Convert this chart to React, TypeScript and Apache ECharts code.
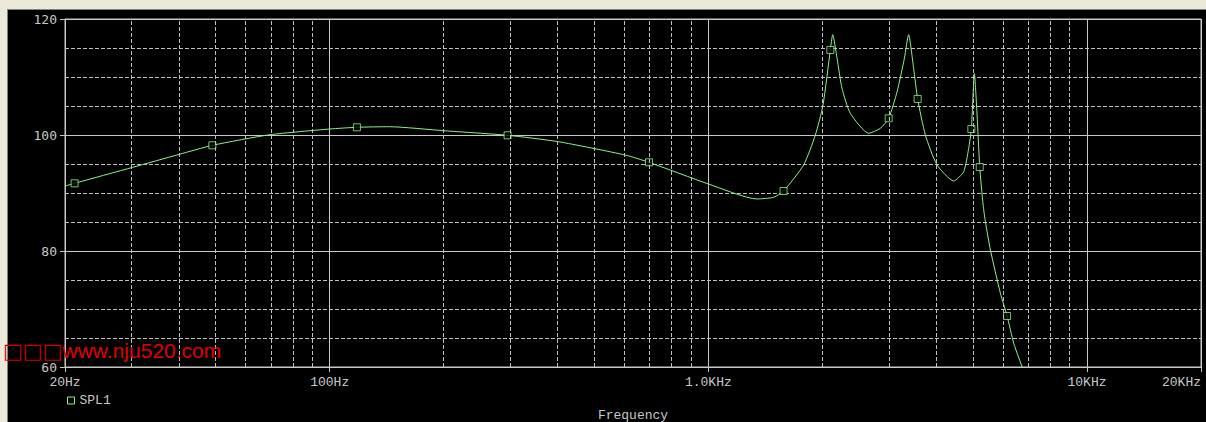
import React, { useEffect, useRef } from "react";
import * as echarts from "echarts";

// Frequency response (Hz) and SPL (dB)
const freqs = [20, 21.2, 30.2, 40.1, 49.0, 69.6, 100, 118, 144, 200, 295, 402, 603, 697, 1001, 1344, 1487, 1580, 1785, 1917, 2008, 2100, 2130, 2188, 2254, 2371, 2652, 2846, 2994, 3151, 3294, 3380, 3484, 3571, 3742, 4018, 4445, 4724, 4870, 4950, 5042, 5125, 5208, 5317, 5391, 5558, 5906, 6152, 6404, 6741];
const spl = [91.2, 91.67, 94.43, 96.67, 98.22, 100.05, 101.03, 101.33, 101.43, 100.74, 99.95, 98.84, 96.55, 95.29, 91.55, 88.97, 89.26, 90.34, 94.83, 100.0, 105.17, 114.66, 117.3, 113.2, 108.05, 103.74, 100.29, 101.16, 102.88, 107.47, 113.22, 117.3, 111.5, 106.21, 100.0, 94.83, 92.07, 93.67, 97.71, 101.03, 110.6, 103.45, 94.48, 87.93, 85.05, 80.17, 72.71, 68.79, 64.09, 60];

const markerFreqs = [21.2, 49.0, 118, 295, 697, 1580, 2100, 2994, 3571, 4950, 5208, 6152];
const markerSpl = [91.67, 98.22, 101.33, 99.95, 95.29, 90.34, 114.66, 102.88, 106.21, 101.03, 94.48, 68.79];

const xTickValues = [20, 100, 1000, 10000, 20000];
const xTickLabels = ["20Hz", "100Hz", "1.0KHz", "10KHz", "20KHz"];
const minorFreqs = [30, 40, 50, 60, 70, 80, 90, 200, 300, 400, 500, 600, 700, 800, 900, 2000, 3000, 4000, 5000, 6000, 7000, 8000, 9000];

const seriesName = "SPL1";
const xAxisTitle = "Frequency";
const watermarkBoxes = "□□□";
const watermarkUrl = "www.nju520.com";

const GREEN = "#8ff08f";
const GRID = "#c8c8c8";
const TEXT = "#c8c8c8";

export default function App() {
  const ref = useRef<HTMLDivElement>(null);
  useEffect(() => {
    if (!ref.current) return;
    const chart = echarts.init(ref.current, null, { renderer: "svg" });
    const lineData = freqs.map((f, i) => [f, spl[i]]);
    const markerData = markerFreqs.map((f, i) => [f, markerSpl[i]]);
    chart.setOption({
      animation: false,
      backgroundColor: "transparent",
      grid: {
        left: 65,
        top: 19,
        right: 5,
        bottom: 55,
        outerBoundsMode: "none",
        containLabel: false,
        show: true,
        borderColor: GRID,
        borderWidth: 1,
        backgroundColor: "#000",
      },
      legend: {
        left: 62,
        top: 389,
        itemWidth: 7,
        itemHeight: 7,
        itemGap: 8,
        textStyle: { color: TEXT, fontFamily: "Liberation Mono", fontSize: 13 },
        data: [
          {
            name: seriesName,
            icon: "rect",
            itemStyle: { color: "#000", borderColor: GREEN, borderWidth: 1 },
          },
        ],
      },
      xAxis: {
        type: "log",
        logBase: 10,
        min: 20,
        max: 20000,
        name: xAxisTitle,
        nameLocation: "middle",
        nameGap: 42,
        nameTextStyle: { color: TEXT, fontFamily: "Liberation Mono", fontSize: 13 },
        axisLine: { show: true, lineStyle: { color: GRID, width: 1 } },
        axisTick: { show: true, length: 5, lineStyle: { color: GRID } },
        axisLabel: {
          color: TEXT,
          fontFamily: "Liberation Mono",
          fontSize: 13,
          margin: 9,
          showMinLabel: true,
          showMaxLabel: true,
          alignMaxLabel: "right",
          formatter: (v: number) => {
            const idx = xTickValues.findIndex((t) => Math.abs(Math.log10(t) - Math.log10(v)) < 0.01);
            return idx >= 0 ? xTickLabels[idx] : "";
          },
        },
        splitLine: { show: true, lineStyle: { color: GRID, width: 1 } },
      },
      yAxis: {
        type: "value",
        min: 60,
        max: 120,
        interval: 20,
        axisLine: { show: true, lineStyle: { color: GRID, width: 1 } },
        axisTick: { show: true, length: 5, lineStyle: { color: GRID } },
        axisLabel: { color: TEXT, fontFamily: "DejaVu Sans Mono", fontSize: 13, margin: 8 },
        splitLine: { show: true, lineStyle: { color: GRID, width: 1 } },
        minorTick: { show: false, splitNumber: 4 },
        minorSplitLine: { show: true, lineStyle: { color: "#c0c0c0", width: 1, type: [4, 2] } },
      },
      graphic: [
        {
          type: "text",
          left: 3,
          top: 340,
          z: 100,
          style: {
            text: "{b|" + watermarkBoxes + "}{u|" + watermarkUrl + "}",
            rich: {
              b: { fill: "#cc0000", fontSize: 21, fontFamily: "DejaVu Sans", lineHeight: 24 },
              u: { fill: "#e00000", fontSize: 21, fontFamily: "Liberation Sans", lineHeight: 24 },
            },
            fill: "#e00000",
            font: "21px 'Liberation Sans', Arial, sans-serif",
          },
        },
      ],
      series: [
        {
          type: "line",
          name: "minor-grid",
          data: [],
          z: 1,
          silent: true,
          markLine: {
            silent: true,
            symbol: ["none", "none"],
            label: { show: false },
            lineStyle: { color: "#c0c0c0", width: 1, type: [4, 2] },
            data: minorFreqs.map((f) => ({ xAxis: f })),
          },
        },
        {
          type: "line",
          name: seriesName,
          data: lineData,
          smooth: 0.2,
          showSymbol: false,
          symbol: "none",
          z: 3,
          clip: true,
          lineStyle: { color: GREEN, width: 1 },
          itemStyle: { color: GREEN },
        },
        {
          type: "scatter",
          name: seriesName,
          data: markerData,
          symbol: "rect",
          symbolSize: 7,
          z: 4,
          itemStyle: { color: "#000", borderColor: GREEN, borderWidth: 1 },
        },
      ],
    });
    return () => chart.dispose();
  }, []);

  return (
    <div style={{ position: "fixed", left: 0, top: 0, width: 1206, height: 422, background: "#ece9d8" }}>
      <div style={{ position: "absolute", left: 7, top: 9, width: 1199, height: 413, background: "#000", borderTop: "1px solid #808080", borderLeft: "1px solid #808080", boxSizing: "border-box" }} />
      <div ref={ref} style={{ position: "absolute", left: 0, top: 0, width: 1206, height: 422 }} />
    </div>
  );
}
